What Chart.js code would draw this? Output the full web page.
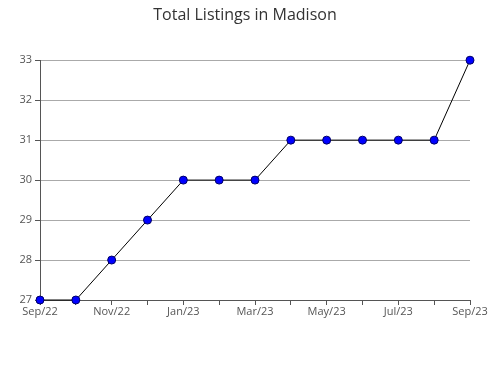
<!DOCTYPE html>
<html>
<head>
<meta charset="utf-8">
<script src="https://cdn.jsdelivr.net/npm/chart.js@4/dist/chart.umd.min.js"></script>
<style>
  body { margin: 0; background: #fff; }
  canvas { display: block; }
</style>
</head>
<body>
<canvas id="grafico" width="490" height="380"></canvas>
<script>
const mesi = ['Sep/22', 'Oct/22', 'Nov/22', 'Dec/22', 'Jan/23', 'Feb/23', 'Mar/23',
              'Apr/23', 'May/23', 'Jun/23', 'Jul/23', 'Aug/23', 'Sep/23'];
const annunci = [27, 27, 28, 29, 30, 30, 30, 31, 31, 31, 31, 31, 33];
const yTicks = [27, 28, 29, 30, 31, 32, 33];

new Chart(document.getElementById('grafico'), {
    type: 'line',
    data: {
        labels: mesi,
        datasets: [{
            label: 'Total Listings',
            data: annunci,
            borderColor: '#000000',
            borderWidth: 1,
            backgroundColor: '#0000ff',
            pointBackgroundColor: '#0000ff',
            pointBorderColor: '#000066',
            pointBorderWidth: 1,
            pointRadius: 4,
            tension: 0,
            clip: false // i punti ai bordi non vengono tagliati
        }]
    },
    options: {
        responsive: false,
        animation: false,
        layout: { padding: { left: 20, right: 20, top: 0, bottom: 55 } },
        plugins: {
            legend: { display: false },
            tooltip: { enabled: false },
            title: {
                display: true,
                text: 'Total Listings in Madison',
                color: '#333333',
                font: { family: 'Open Sans', size: 16, weight: 'normal' },
                padding: { top: 6, bottom: 35 }
            }
        },
        scales: {
            x: {
                offset: false,
                grid: { display: true, drawOnChartArea: false, tickLength: 5, color: '#555555' },
                border: { color: '#555555' },
                ticks: {
                    autoSkip: false,
                    maxRotation: 0,
                    padding: 0,
                    color: '#555555',
                    font: { family: 'Open Sans', size: 11 },
                    callback: (v, i) => i % 2 === 0 ? mesi[i] : ''
                },
                afterFit: s => { s.height = 25; }
            },
            y: {
                min: yTicks[0],
                max: yTicks[yTicks.length - 1],
                afterBuildTicks: s => { s.ticks = yTicks.map(v => ({ value: v })); },
                grid: { color: '#aaaaaa', tickLength: 5, tickColor: '#555555' },
                border: { color: '#555555' },
                ticks: {
                    padding: 3,
                    color: '#555555',
                    font: { family: 'Open Sans', size: 11 }
                },
                afterFit: s => { s.width = 20; }
            }
        }
    }
});
</script>
</body>
</html>
